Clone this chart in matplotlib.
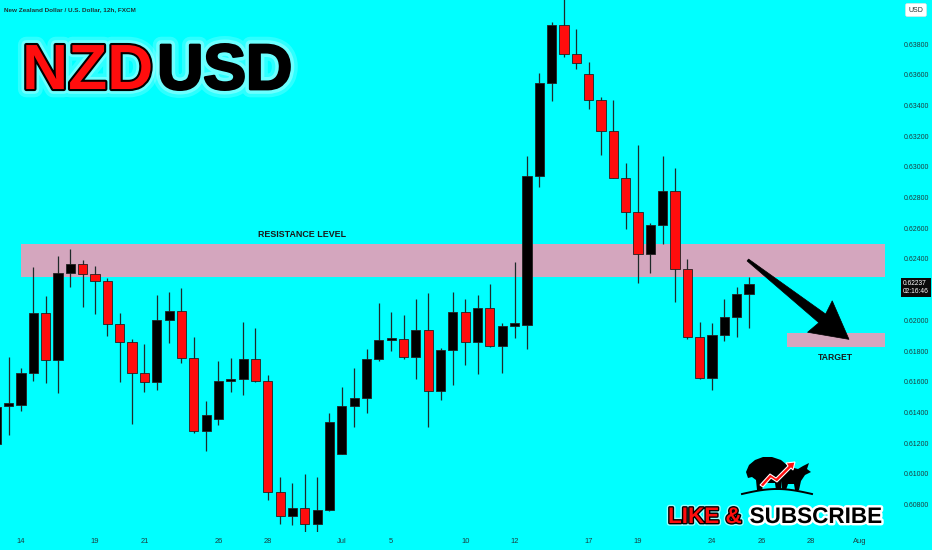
import numpy as np
import matplotlib
matplotlib.use("Agg")
import matplotlib.pyplot as plt
from matplotlib import font_manager as fm
from matplotlib import patheffects as pe
from matplotlib.patches import Polygon, Rectangle

# ---------------- data (12h candles, NZD/USD) ----------------
OPEN = [0.61194, 0.61445, 0.61448, 0.61659, 0.62050, 0.61739, 0.62308, 0.62367, 0.62300, 0.62254,
        0.61976, 0.61859, 0.61655, 0.61598, 0.62000, 0.62059, 0.61754, 0.61281, 0.61359, 0.61605,
        0.61620, 0.61746, 0.61603, 0.60879, 0.60725, 0.60775, 0.60676, 0.60764, 0.61131, 0.61440,
        0.61492, 0.61746, 0.61872, 0.61880, 0.61763, 0.61935, 0.61539, 0.61807, 0.62052, 0.61861,
        0.62078, 0.61831, 0.61965, 0.61970, 0.62942, 0.63544, 0.63922, 0.63735, 0.63605, 0.63433,
        0.63233, 0.62927, 0.62707, 0.62430, 0.62619, 0.62840, 0.62332, 0.61893, 0.61622, 0.61902,
        0.62023, 0.62169]
HIGH = [0.61481, 0.61764, 0.61687, 0.62349, 0.62158, 0.62419, 0.62463, 0.62393, 0.62354, 0.62273,
        0.62046, 0.61880, 0.61846, 0.62163, 0.62182, 0.62208, 0.61889, 0.61476, 0.61737, 0.61756,
        0.61989, 0.61950, 0.61644, 0.60981, 0.60938, 0.61002, 0.60981, 0.61394, 0.61566, 0.61687,
        0.61811, 0.62111, 0.62056, 0.62035, 0.62137, 0.62180, 0.61818, 0.62182, 0.62137, 0.62165,
        0.62235, 0.61980, 0.62380, 0.63070, 0.63609, 0.63945, 0.64120, 0.63900, 0.63683, 0.63453,
        0.63435, 0.63023, 0.63140, 0.62636, 0.63068, 0.62990, 0.62401, 0.61991, 0.61980, 0.62137,
        0.62219, 0.62284]
LOW = [0.61181, 0.61253, 0.61411, 0.61605, 0.61594, 0.61526, 0.62215, 0.62085, 0.62041, 0.61900,
       0.61596, 0.61326, 0.61533, 0.61544, 0.61854, 0.61724, 0.61268, 0.61150, 0.61316, 0.61533,
       0.61511, 0.61596, 0.60829, 0.60673, 0.60667, 0.60608, 0.60608, 0.60755, 0.61129, 0.61307,
       0.61394, 0.61737, 0.61802, 0.61746, 0.61616, 0.61305, 0.61483, 0.61577, 0.61707, 0.61648,
       0.61826, 0.61655, 0.61887, 0.61813, 0.62866, 0.63429, 0.63713, 0.63639, 0.63375, 0.63077,
       0.62925, 0.62593, 0.62241, 0.62306, 0.62495, 0.62121, 0.61876, 0.61620, 0.61546, 0.61867,
       0.61889, 0.61948]
CLOSE = [0.61437, 0.61450, 0.61659, 0.62050, 0.61739, 0.62308, 0.62367, 0.62300, 0.62254, 0.61976,
         0.61859, 0.61655, 0.61598, 0.62000, 0.62059, 0.61754, 0.61281, 0.61381, 0.61605, 0.61620,
         0.61746, 0.61603, 0.60879, 0.60725, 0.60775, 0.60676, 0.60764, 0.61337, 0.61440, 0.61492,
         0.61746, 0.61872, 0.61880, 0.61763, 0.61935, 0.61539, 0.61807, 0.62052, 0.61861, 0.62078,
         0.61831, 0.61965, 0.61970, 0.62942, 0.63544, 0.63922, 0.63735, 0.63678, 0.63433, 0.63233,
         0.62927, 0.62707, 0.62430, 0.62619, 0.62840, 0.62332, 0.61893, 0.61622, 0.61902, 0.62023,
         0.62169, 0.62237]

DATE_LABELS = ["14", "19", "21", "26", "28", "Jul", "5", "10", "12", "17", "19", "24", "26", "28", "Aug"]
DATE_BARS = [2, 8, 12, 18, 22, 28, 32, 38, 42, 48, 52, 58, 62, 66, 70]

# 0.62200 is hidden behind the last-price label in the reference
PRICE_TICKS = [0.608, 0.610, 0.612, 0.614, 0.616, 0.618, 0.620, 0.624,
               0.626, 0.628, 0.630, 0.632, 0.634, 0.636, 0.638]

RESISTANCE_ZONE = (0.62280, 0.62497)   # low, high
RESISTANCE_BARS = (2.0, 72.0)
TARGET_ZONE = (0.61824, 0.61919)
TARGET_BARS = (64.1, 72.0)
COUNTDOWN = "02:16:46"

# ---------------- fonts ----------------
def has_font(name):
    try:
        fm.findfont(fm.FontProperties(family=name), fallback_to_default=False)
        return True
    except Exception:
        return False

NARROW_OK = has_font("Liberation Sans Narrow")
NARROW = "Liberation Sans Narrow" if NARROW_OK else "Liberation Sans"
k = 1.0 if NARROW_OK else 0.82

BG = "#00FFFF"
RED = "#FF0D0D"
BLACK = "#000000"
ZONE = "#D4A6BE"
AXTXT = "#1d3d3f"

W, H = 932, 550
fig = plt.figure(figsize=(W / 100, H / 100), dpi=100)
fig.patch.set_facecolor(BG)

ax = fig.add_axes([0, 18 / H, 888 / W, 532 / H])
ax.set_facecolor(BG)
for s in ax.spines.values():
    s.set_visible(False)

n = len(OPEN)
x = np.arange(n)
o = np.array(OPEN); c = np.array(CLOSE); hi = np.array(HIGH); lo = np.array(LOW)
up = c >= o
colors = np.where(up, BLACK, RED)

# zones
ax.add_patch(Rectangle((RESISTANCE_BARS[0], RESISTANCE_ZONE[0]),
                       RESISTANCE_BARS[1] - RESISTANCE_BARS[0],
                       RESISTANCE_ZONE[1] - RESISTANCE_ZONE[0],
                       facecolor=ZONE, edgecolor="none", zorder=1))
ax.add_patch(Rectangle((TARGET_BARS[0], TARGET_ZONE[0]),
                       TARGET_BARS[1] - TARGET_BARS[0],
                       TARGET_ZONE[1] - TARGET_ZONE[0],
                       facecolor=ZONE, edgecolor="none", zorder=1))

# candles
ax.vlines(x, lo, hi, color="#1e2a2a", linewidth=0.9, zorder=2)
body_lo = np.minimum(o, c)
body_h = np.maximum(np.abs(c - o), 0.00016)
ax.bar(x, body_h, bottom=body_lo, width=0.74, color=colors,
       edgecolor="#222222", linewidth=0.6, zorder=3)

ax.set_xlim(0.298, 72.26)
ax.set_ylim(0.60621, 0.64087)

ax.yaxis.tick_right()
ax.set_yticks(PRICE_TICKS)
ax.set_yticklabels([f"{v:.5f}" for v in PRICE_TICKS])
ax.tick_params(axis="y", length=0, pad=11.5, labelsize=5.4 * k + (0 if NARROW_OK else 0.6),
               labelcolor=AXTXT)
for t in ax.get_yticklabels():
    t.set_fontfamily(NARROW)

ax.set_xticks(DATE_BARS)
ax.set_xticklabels(DATE_LABELS)
ax.tick_params(axis="x", length=0, pad=4, labelsize=5.4, labelcolor=AXTXT)
for t in ax.get_xticklabels():
    t.set_fontfamily(NARROW)

# zone labels
ax.text(24.77, 0.62562, "RESISTANCE LEVEL", ha="center", va="center",
        fontsize=7.8 * k, fontweight="bold", family=NARROW, color="#1a1a1a", zorder=5)
ax.text(67.96, 0.61756, "TARGET", ha="center", va="center",
        fontsize=7.6 * k, fontweight="bold", family=NARROW, color="#1a1a1a", zorder=5)

# last price label
ax.annotate(f"{CLOSE[-1]:.5f}\n{COUNTDOWN}", xy=(903 / 888, CLOSE[-1]),
            xycoords=("axes fraction", "data"), ha="left", va="top",
            xytext=(0, 3), textcoords="offset points",
            fontsize=4.8, family=NARROW, color="white", linespacing=1.25,
            bbox=dict(boxstyle="square,pad=0.25", facecolor="#0a0a0a", edgecolor="none"),
            annotation_clip=False, zorder=6)

# ---------------- overlay in pixel coordinates ----------------
ov = fig.add_axes([0, 0, 1, 1])
ov.set_xlim(0, W)
ov.set_ylim(H, 0)
ov.axis("off")
ov.patch.set_alpha(0)

fig.canvas.draw()
def to_px(bar, price):
    dx, dy = ax.transData.transform((bar, price))
    return np.array([dx, H - dy])

# arrow: from resistance zone toward target zone
tail = to_px(60.9, 0.62393)
tip = to_px(69.1, 0.61876)
u = (tip - tail) / np.linalg.norm(tip - tail)
nrm = np.array([-u[1], u[0]])
base = tip - u * 34
pts = [tail + nrm * 1.2, base + nrm * 5.5, base + nrm * 20 - u * 3, tip,
       base - nrm * 20 - u * 3, base - nrm * 5.5, tail - nrm * 1.2]
ov.add_patch(Polygon(pts, closed=True, facecolor="black", edgecolor="black",
                     linewidth=0.5, joinstyle="miter", zorder=10))

# small bull & bear emblem above "SUBSCRIBE"
bear = [(746, 472), (749, 465), (755, 460), (763, 457), (772, 457), (781, 460), (787, 465),
        (789, 472), (786, 478), (782, 481), (781, 490), (776, 490), (775, 483), (764, 483),
        (762, 490), (757, 490), (756, 480), (752, 477), (748, 478)]
bull = [(782, 472), (790, 467), (798, 469), (803, 466), (809, 463), (807, 469), (811, 472),
        (805, 475), (801, 481), (799, 490), (795, 490), (794, 484), (788, 484), (786, 490),
        (782, 490)]
ov.add_patch(Polygon(bear, closed=True, facecolor="black", edgecolor="none", zorder=9))
ov.add_patch(Polygon(bull, closed=True, facecolor="black", edgecolor="none", zorder=9))
zig = [(760, 485), (770, 474), (776, 478), (788, 466), (786, 463), (795, 462),
       (793, 470), (791, 468), (777, 482), (771, 478), (763, 487)]
ov.add_patch(Polygon(zig, closed=True, facecolor=RED, edgecolor="white",
                     linewidth=0.8, zorder=11))
gx = np.linspace(742, 812, 60)
ov.plot(gx, 494 - 5 * np.sin(np.pi * (gx - 742) / 70), color="black", linewidth=1.4, zorder=9)

# header
fig.text(4 / W, 1 - 10 / H, "New Zealand Dollar / U.S. Dollar, 12h, FXCM",
         fontsize=5.2 * k + (0 if NARROW_OK else 0.3), family=NARROW, fontweight="bold",
         color="#1b3535", ha="left", va="center")

glow = [pe.Stroke(linewidth=12, foreground="white", alpha=0.18),
        pe.Stroke(linewidth=7, foreground="white", alpha=0.3)]
big = 56 if NARROW_OK else 46
fig.text(22 / W, 1 - 89 / H, "NZD", fontsize=big, fontweight="bold", family=NARROW,
         color=RED, ha="left", va="baseline",
         path_effects=glow + [pe.Stroke(linewidth=3, foreground="black"), pe.Normal()])
fig.text(292 / W, 1 - 89 / H, "USD", fontsize=big, fontweight="bold", family=NARROW,
         color=BLACK, ha="right", va="baseline",
         path_effects=glow + [pe.Stroke(linewidth=2, foreground="black"), pe.Normal()])

# USD currency box
fig.text(916 / W, 1 - 10 / H, "USD", fontsize=5, family=NARROW, color="#223333",
         ha="center", va="center",
         bbox=dict(boxstyle="round,pad=0.45,rounding_size=0.3", facecolor="white",
                   edgecolor="#dddddd", linewidth=0.4))

# LIKE & SUBSCRIBE
mid = 19.8 if NARROW_OK else 16.2
fig.text(668 / W, 1 - 523 / H, "LIKE &", fontsize=mid, fontweight="bold", family=NARROW,
         color=RED, ha="left", va="baseline",
         path_effects=[pe.Stroke(linewidth=4, foreground="white", alpha=0.6),
                       pe.Stroke(linewidth=2, foreground="black"), pe.Normal()])
fig.text(882 / W, 1 - 523 / H, "SUBSCRIBE", fontsize=mid, fontweight="bold", family=NARROW,
         color=BLACK, ha="right", va="baseline",
         path_effects=[pe.Stroke(linewidth=3.5, foreground="white"), pe.Normal()])

fig.savefig("out.png", dpi=100, facecolor=BG)
